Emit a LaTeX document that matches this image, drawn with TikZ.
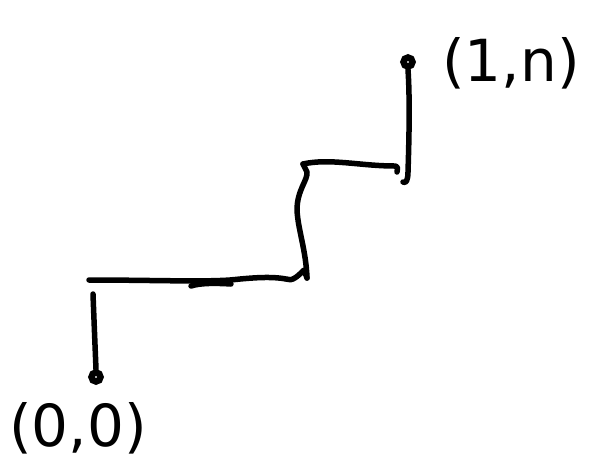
\documentclass[tikz,border=0pt]{standalone}
\usepackage{fontspec}
\setmainfont{DejaVu Sans}
\begin{document}
\begin{tikzpicture}[x=1pt,y=-1pt,
  pen/.style={line width=5.5pt,line cap=round,line join=round},
  dotn/.style={circle,draw,line width=6.5pt,inner sep=0pt,minimum size=9pt},
  lab/.style={font=\fontsize{58}{62}\selectfont,inner sep=0pt}]
\useasboundingbox (0,0) rectangle (599,467);
\node[dotn] (s) at (96,377) {};
\node[dotn] (e) at (408,62) {};
\node[lab] (ls) at (78,428) {(0,0)};
\node[lab] (le) at (511,63) {(1,n)};
\coordinate (a1) at (93,294);
\coordinate (b1) at (89,280);
\coordinate (b2) at (286,279);
\coordinate (b3) at (307,278);
\coordinate (c1) at (303,164);
\coordinate (c2) at (395,166);
\coordinate (d1) at (403,182);
\coordinate (x1) at (191,286);
\coordinate (x2) at (231,284);
\draw[pen] (a1) .. controls (94,320) and (95,345) .. (s.north);
\draw[pen] (b1) .. controls (150,280) and (200,282) .. (230,280)
  .. controls (250,278) and (270,276) .. (b2)
  .. controls (292,282) and (298,276) .. (304,270) -- (b3);
\draw[pen] (x1) .. controls (200,283) and (215,283) .. (x2);
\draw[pen] (b3) .. controls (306,250) and (298,230) .. (297,210)
  .. controls (297,190) and (308,180) .. (307,172) -- (c1);
\draw[pen] (c1) .. controls (330,158) and (360,166) .. (c2)
  .. controls (398,166) and (398,170) .. (397,172);
\draw[pen] (d1) .. controls (406,184) and (408,180) .. (408,172)
  .. controls (409,140) and (410,100) .. (e.south);
\end{tikzpicture}
\end{document}
